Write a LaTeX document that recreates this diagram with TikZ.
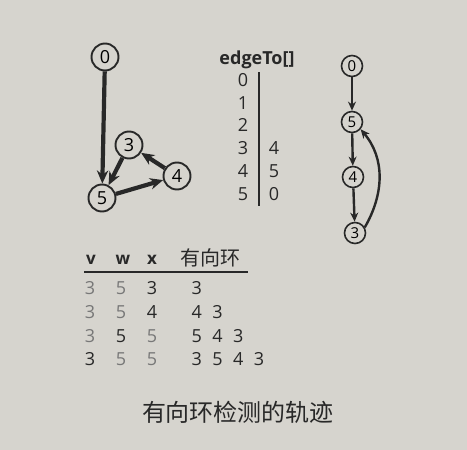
\documentclass[tikz,border=0pt]{standalone}
\definecolor{paper}{RGB}{214, 212, 206}
\definecolor{ink}{RGB}{40, 40, 40}
\definecolor{faded}{RGB}{120, 120, 120}
\usepackage{fontspec}
\setmainfont{Open Sans}
\newfontfamily\cjk{Noto Sans CJK SC}
\usetikzlibrary{arrows.meta, positioning}
\newcommand\gap{\hspace{10.5pt}}

\begin{document}
\begin{tikzpicture}[
    x=1pt, y=1pt,
    vtx/.style={circle, draw=ink, line width=1.9pt, fill=paper,
                minimum size=27pt, inner sep=0pt,
                font=\fontsize{18}{18}\selectfont},
    svtx/.style={vtx, line width=1.6pt, minimum size=21pt,
                 font=\fontsize{15}{15}\selectfont},
    arr/.style={-{Stealth[length=4.6mm, width=4mm]}, line width=4.2pt, ink},
    sarr/.style={-{Stealth[length=3.2mm, width=2.8mm]}, line width=2.4pt, ink},
    num/.style={font=\fontsize{18}{18}\selectfont, anchor=base, text=ink},
    dim/.style={num, text=faded},
    hdr/.style={font=\bfseries\fontsize{17}{17}\selectfont, anchor=base, text=ink}
  ]
    \fill[paper] (0,0) rectangle (467,-450);

    % digraph
    \node[vtx] (n0) at (105,-57) {0};
    \node[vtx] (n3) at (129,-145) {3};
    \node[vtx] (n4) at (177,-176) {4};
    \node[vtx] (n5) at (102,-198) {5};

    \draw[arr] (n0) -- (n5);
    \draw[arr] (n3) -- (n5);
    \draw[arr] (n5) -- (n4);
    \draw[arr] (n4) -- (n3);

    % edgeTo[]
    \node[hdr, font=\bfseries\fontsize{18}{18}\selectfont] (etH) at (257,-64) {edgeTo[]};
    \node[num] (et0) at (243,-86) {0};
    \node[num] (et1) at (243,-109) {1};
    \node[num] (et2) at (243,-131) {2};
    \node[num] (et3) at (243,-154) {3};
    \node[num] (et4) at (243,-177) {4};
    \node[num] (et5) at (243,-200) {5};
    \node[num] (ev3) at (274,-154) {4};
    \node[num] (ev4) at (274,-177) {5};
    \node[num] (ev5) at (274,-200) {0};
    \draw[ink, line width=1.3pt] (259,-72) -- (259,-206);

    % cycle on the stack
    \node[svtx] (r0) at (352,-66) {0};
    \node[svtx] (r5) at (352,-122) {5};
    \node[svtx] (r4) at (353,-177) {4};
    \node[svtx] (r3) at (355,-233) {3};

    \draw[sarr] (r0) -- (r5);
    \draw[sarr] (r5) -- (r4);
    \draw[sarr] (r4) -- (r3);
    \draw[sarr] (r3.30) to[out=60, in=-50] (r5.-40);

    % trace table
    \node[hdr] (hv) at (91,-264) {v};
    \node[hdr] (hw) at (123,-264) {w};
    \node[hdr] (hx) at (152,-264) {x};
    \node[anchor=base west, text=ink, font=\cjk\fontsize{20}{20}\selectfont]
      (hc) at (177,-265) {有向环};
    \draw[ink, line width=1.6pt] (84,-272) -- (248,-272);

    \node[dim] (v1) at (90,-294) {3};
    \node[dim] (w1) at (121,-294) {5};
    \node[num] (x1) at (152,-294) {3};
    \node[num, anchor=base west] (c1) at (188,-294) {3};

    \node[dim] (v2) at (90,-318) {3};
    \node[dim] (w2) at (121,-318) {5};
    \node[num] (x2) at (152,-318) {4};
    \node[num, anchor=base west] (c2) at (188,-318) {4\gap 3};

    \node[dim] (v3) at (90,-342) {3};
    \node[num] (w3) at (121,-342) {5};
    \node[dim] (x3) at (152,-342) {5};
    \node[num, anchor=base west] (c3) at (188,-342) {5\gap 4\gap 3};

    \node[num] (v4) at (90,-365) {3};
    \node[dim] (w4) at (121,-365) {5};
    \node[dim] (x4) at (152,-365) {5};
    \node[num, anchor=base west] (c4) at (188,-365) {3\gap 5\gap 4\gap 3};

    \node[text=ink, font=\cjk\fontsize{24}{24}\selectfont] (cap) at (238,-412)
      {有向环检测的轨迹};
  \end{tikzpicture}
\end{document}
